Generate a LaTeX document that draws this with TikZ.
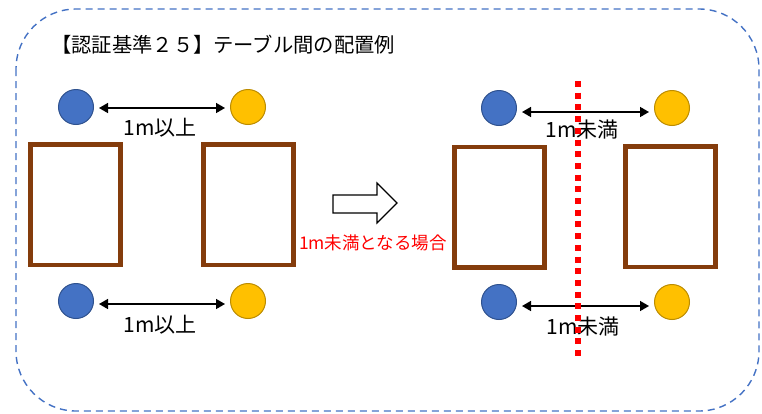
\documentclass[tikz,border=0pt]{standalone}
\usepackage{fontspec}
\setmainfont{Noto Sans CJK JP}
\usetikzlibrary{arrows.meta,calc,positioning}
\definecolor{seatblue}{HTML}{4472C4}
\definecolor{seatblueedge}{HTML}{2F528F}
\definecolor{seatyellow}{HTML}{FFC000}
\definecolor{seatyellowedge}{HTML}{BC8C00}
\definecolor{tablebrown}{HTML}{843C0C}

\begin{document}
\begin{tikzpicture}[x=1pt,y=-1pt]

\tikzset{bluenode/.style={shape=circle,fill=seatblue,draw=seatblueedge,line width=1pt,minimum size=35pt,inner sep=0pt},
yellownode/.style={shape=circle,fill=seatyellow,draw=seatyellowedge,line width=1pt,minimum size=35pt,inner sep=0pt},
tablenode/.style={draw=tablebrown,line width=4.7pt,minimum width=90pt,minimum height=120.5pt,inner sep=0pt},
gap/.style={{Triangle[length=9pt,width=10pt]}-{Triangle[length=9pt,width=10pt]},line width=1.5pt,shorten <=5pt,shorten >=5pt},
gaplabel/.style={font=\fontsize{21}{21}\selectfont,inner sep=1pt}}

\useasboundingbox (0,0) rectangle (762,413);

% Frame
\draw[seatblue,line width=1.4pt,dash pattern=on 7pt off 5pt,rounded corners=60pt] (16,9) rectangle (759,411);
\node[anchor=west,font=\fontsize{20.3}{20.3}\selectfont,inner sep=0pt] (title) at (51,45) {【認証基準２５】テーブル間の配置例};

% Left layout
\node (lb1) [bluenode] at (76,107) {};
\node (ly1) [yellownode] at (248,107) {};
\node (lt1) [tablenode] at (75.8,204.8) {};
\node (lt2) [tablenode] at (248.2,204.8) {};
\node (lb2) [bluenode] at (76,301) {};
\node (ly2) [yellownode] at (248,301) {};
\draw[gap] ($(lb1.east)+(0,1)$) -- ($(ly1.west)+(0,1)$);
\draw[gap] ($(lb2.east)+(0,3)$) -- ($(ly2.west)+(0,3)$);
\node[gaplabel] (ll1) at (160,128) {1m以上};
\node[gaplabel] (ll2) at (160,325) {1m以上};

% Change arrow
\draw[line width=1.2pt,line join=miter] (333,195) -- (377,195) -- (377,183) -- (397,203) -- (377,223) -- (377,213) -- (333,213) -- cycle;
\node[red,font=\fontsize{17.5}{17.5}\selectfont,inner sep=0pt] (case) at (373,243) {1m未満となる場合};

% Right layout
\node (rb1) [bluenode] at (499,108) {};
\node (ry1) [yellownode] at (672,108) {};
\node (rt1) [tablenode] at (499.2,207.2) {};
\node (rt2) [tablenode] at (670.8,206.7) {};
\node (rb2) [bluenode] at (499,302) {};
\node (ry2) [yellownode] at (672,302) {};
\draw[gap] ($(rb1.east)+(0,4)$) -- ($(ry1.west)+(0,4)$);
\draw[gap] ($(rb2.east)+(0,4)$) -- ($(ry2.west)+(0,4)$);
\node[gaplabel] (rl1) at (582,130) {1m未満};
\node[gaplabel] (rl2) at (583,327) {1m未満};

% Boundary line
\draw[red,line width=6pt,dash pattern=on 6pt off 5.7pt] (577.7,81) -- (577.7,356);

\end{tikzpicture}
\end{document}
